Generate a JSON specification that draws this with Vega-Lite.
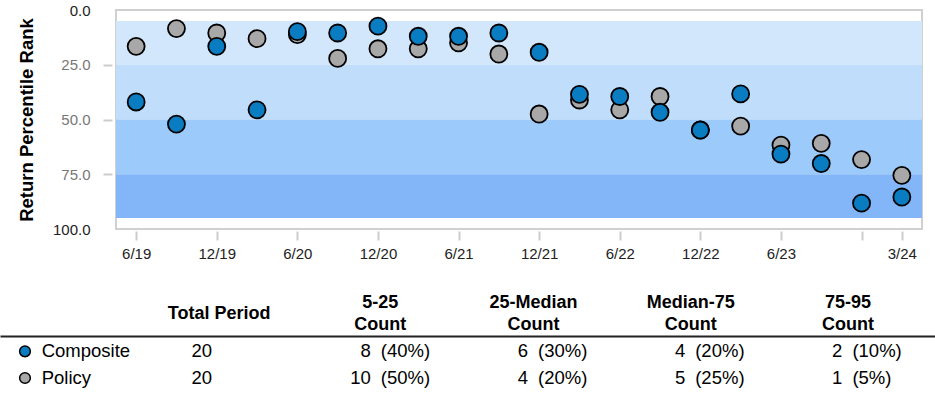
{
  "$schema": "https://vega.github.io/schema/vega-lite/v6.json",
  "padding": {"left": 16, "top": 2, "right": 0, "bottom": 0},
  "background": "white",
  "config": {"font": "Liberation Sans", "view": {"stroke": null}},
  "datasets": {
    "bands": [
      {"band": "5-25", "lo": 5, "hi": 25},
      {"band": "25-50", "lo": 25, "hi": 50},
      {"band": "50-75", "lo": 50, "hi": 75},
      {"band": "75-95", "lo": 75, "hi": 95}
    ],
    "ranks": [
      {"q": "6/19", "series": "Policy", "rank": 16.6},
      {"q": "9/19", "series": "Policy", "rank": 8.5},
      {"q": "12/19", "series": "Policy", "rank": 10.5},
      {"q": "3/20", "series": "Policy", "rank": 13.1},
      {"q": "6/20", "series": "Policy", "rank": 11.2},
      {"q": "9/20", "series": "Policy", "rank": 22.1},
      {"q": "12/20", "series": "Policy", "rank": 17.7},
      {"q": "3/21", "series": "Policy", "rank": 17.7},
      {"q": "6/21", "series": "Policy", "rank": 15.0},
      {"q": "9/21", "series": "Policy", "rank": 20.1},
      {"q": "12/21", "series": "Policy", "rank": 47.5},
      {"q": "3/22", "series": "Policy", "rank": 41.1},
      {"q": "6/22", "series": "Policy", "rank": 45.6},
      {"q": "9/22", "series": "Policy", "rank": 39.5},
      {"q": "12/22", "series": "Policy", "rank": 54.8},
      {"q": "3/23", "series": "Policy", "rank": 53.0},
      {"q": "6/23", "series": "Policy", "rank": 61.7},
      {"q": "9/23", "series": "Policy", "rank": 60.9},
      {"q": "12/23", "series": "Policy", "rank": 68.3},
      {"q": "3/24", "series": "Policy", "rank": 75.5},
      {"q": "6/19", "series": "Composite", "rank": 42.0},
      {"q": "9/19", "series": "Composite", "rank": 52.1},
      {"q": "12/19", "series": "Composite", "rank": 16.6},
      {"q": "3/20", "series": "Composite", "rank": 45.6},
      {"q": "6/20", "series": "Composite", "rank": 9.9},
      {"q": "9/20", "series": "Composite", "rank": 10.5},
      {"q": "12/20", "series": "Composite", "rank": 7.4},
      {"q": "3/21", "series": "Composite", "rank": 12.0},
      {"q": "6/21", "series": "Composite", "rank": 12.0},
      {"q": "9/21", "series": "Composite", "rank": 10.5},
      {"q": "12/21", "series": "Composite", "rank": 19.3},
      {"q": "3/22", "series": "Composite", "rank": 38.5},
      {"q": "6/22", "series": "Composite", "rank": 39.5},
      {"q": "9/22", "series": "Composite", "rank": 46.7},
      {"q": "12/22", "series": "Composite", "rank": 54.8},
      {"q": "3/23", "series": "Composite", "rank": 38.3},
      {"q": "6/23", "series": "Composite", "rank": 65.8},
      {"q": "9/23", "series": "Composite", "rank": 70.1},
      {"q": "12/23", "series": "Composite", "rank": 88.2},
      {"q": "3/24", "series": "Composite", "rank": 85.4}
    ],
    "table": [
      {"series": "Composite", "col": "Series"},
      {"series": "Composite", "col": "Total Period", "num": 20},
      {"series": "Composite", "col": "5-25 Count", "num": 8, "pct": "(40%)"},
      {"series": "Composite", "col": "25-Median Count", "num": 6, "pct": "(30%)"},
      {"series": "Composite", "col": "Median-75 Count", "num": 4, "pct": "(20%)"},
      {"series": "Composite", "col": "75-95 Count", "num": 2, "pct": "(10%)"},
      {"series": "Policy", "col": "Series"},
      {"series": "Policy", "col": "Total Period", "num": 20},
      {"series": "Policy", "col": "5-25 Count", "num": 10, "pct": "(50%)"},
      {"series": "Policy", "col": "25-Median Count", "num": 4, "pct": "(20%)"},
      {"series": "Policy", "col": "Median-75 Count", "num": 5, "pct": "(25%)"},
      {"series": "Policy", "col": "75-95 Count", "num": 1, "pct": "(5%)"}
    ]
  },
  "vconcat": [
    {
      "width": 806,
      "height": 219,
      "view": {"stroke": "#d0d0d0", "strokeWidth": 2},
      "layer": [
        {
          "data": {"name": "bands"},
          "mark": {"type": "rect"},
          "encoding": {
            "y": {
              "field": "lo", "type": "quantitative",
              "scale": {"domain": [0, 100], "reverse": true, "nice": false},
              "axis": {
                "values": [0, 25, 50, 75, 100],
                "format": ".1f",
                "title": "Return Percentile Rank",
                "titleFontSize": 18.5,
                "titleFontWeight": "bold",
                "titleColor": "#000000",
                "titlePadding": 15.5,
                "domain": false,
                "grid": false,
                "tickSize": 9,
                "tickWidth": 2,
                "tickColor": {"condition": {"test": "datum.value == 0 || datum.value == 100", "value": "transparent"}, "value": "#cccccc"},
                "offset": 4,
                "labelPadding": 13,
                "labelFontSize": 15,
                "labelColor": {"condition": {"test": "datum.value == 0 || datum.value == 100", "value": "#222222"}, "value": "#777777"}
              }
            },
            "y2": {"field": "hi"},
            "color": {
              "field": "band", "type": "nominal",
              "scale": {"domain": ["5-25", "25-50", "50-75", "75-95"], "range": ["#d3e7fc", "#c0ddfb", "#9ccafa", "#83b6f9"]},
              "legend": null
            }
          }
        },
        {
          "data": {"name": "ranks"},
          "mark": {"type": "point", "filled": true, "size": 290, "stroke": "#000000", "strokeWidth": 1.8, "opacity": 1},
          "encoding": {
            "x": {
              "field": "q", "type": "ordinal", "sort": null,
              "scale": {"type": "point", "padding": 0.5},
              "axis": {
                "values": ["6/19", "12/19", "6/20", "12/20", "6/21", "12/21", "6/22", "12/22", "6/23", "12/23", "3/24"],
                "labelExpr": "datum.value == '12/23' ? '' : datum.value",
                "title": null,
                "domain": false,
                "grid": false,
                "tickSize": 9,
                "tickWidth": 2,
                "tickColor": "#cccccc",
                "offset": 2,
                "labelPadding": 6,
                "labelFontSize": 15,
                "labelColor": "#222222",
                "labelAngle": 0
              }
            },
            "y": {"field": "rank", "type": "quantitative"},
            "fill": {
              "field": "series", "type": "nominal",
              "scale": {"domain": ["Composite", "Policy"], "range": ["#0a7dc2", "#a8a8a8"]},
              "legend": null
            }
          }
        }
      ]
    },
    {
      "width": 819,
      "height": 55,
      "view": {"stroke": null},
      "data": {"name": "table"},
      "encoding": {
        "x": {
          "field": "col", "type": "ordinal",
          "scale": {"type": "point", "domain": ["Series", "Total Period", "5-25 Count", "25-Median Count", "Median-75 Count", "75-95 Count"], "range": [-116, 819], "padding": 0.4739, "align": 0.412},
          "axis": {
            "orient": "top",
            "title": null,
            "labelExpr": "datum.value == 'Series' ? '' : datum.value == 'Total Period' ? 'Total Period' : split(datum.value, ' ')",
            "ticks": false,
            "tickSize": 0,
            "labelPadding": {"condition": {"test": "datum.value == 'Total Period'", "value": 22.7}, "value": 33.7},
            "labelOffset": {"condition": {"test": "datum.value == '5-25 Count'", "value": 4}, "value": 0},
            "labelBaseline": "middle",
            "labelAngle": 0,
            "labelFontSize": 18,
            "labelFontWeight": "bold",
            "labelLineHeight": 22,
            "labelColor": "#000000",
            "labelOverlap": false,
            "domain": true,
            "domainColor": "#222222",
            "domainWidth": 2,
            "grid": false
          }
        },
        "y": {
          "field": "series", "type": "nominal",
          "scale": {"type": "point", "domain": ["Composite", "Policy"], "padding": 0.53, "align": 0.541},
          "axis": null
        }
      },
      "layer": [
        {
          "transform": [{"filter": "datum.col == 'Series'"}],
          "mark": {"type": "point", "filled": true, "size": 115, "stroke": "#000000", "strokeWidth": 1.5, "opacity": 1, "xOffset": -36.4},
          "encoding": {"fill": {"field": "series", "type": "nominal", "legend": null}}
        },
        {
          "transform": [{"filter": "datum.col == 'Series'"}],
          "mark": {"type": "text", "align": "left", "baseline": "middle", "dx": -19.7, "fontSize": 18.5, "color": "#000000"},
          "encoding": {"text": {"field": "series"}}
        },
        {
          "transform": [{"filter": "datum.col == 'Total Period'"}],
          "mark": {"type": "text", "align": "center", "baseline": "middle", "dx": -16.9, "fontSize": 18.5, "color": "#000000"},
          "encoding": {"text": {"field": "num"}}
        },
        {
          "transform": [{"filter": "datum.col != 'Series' && datum.col != 'Total Period'"}],
          "mark": {"type": "text", "align": "right", "baseline": "middle", "dx": -5, "fontSize": 18.5, "color": "#000000"},
          "encoding": {"text": {"field": "num"}}
        },
        {
          "transform": [{"filter": "datum.col != 'Series' && datum.col != 'Total Period'"}],
          "mark": {"type": "text", "align": "left", "baseline": "middle", "dx": 5, "fontSize": 18.5, "color": "#000000"},
          "encoding": {"text": {"field": "pct"}}
        }
      ]
    }
  ],
  "spacing": 31
}
